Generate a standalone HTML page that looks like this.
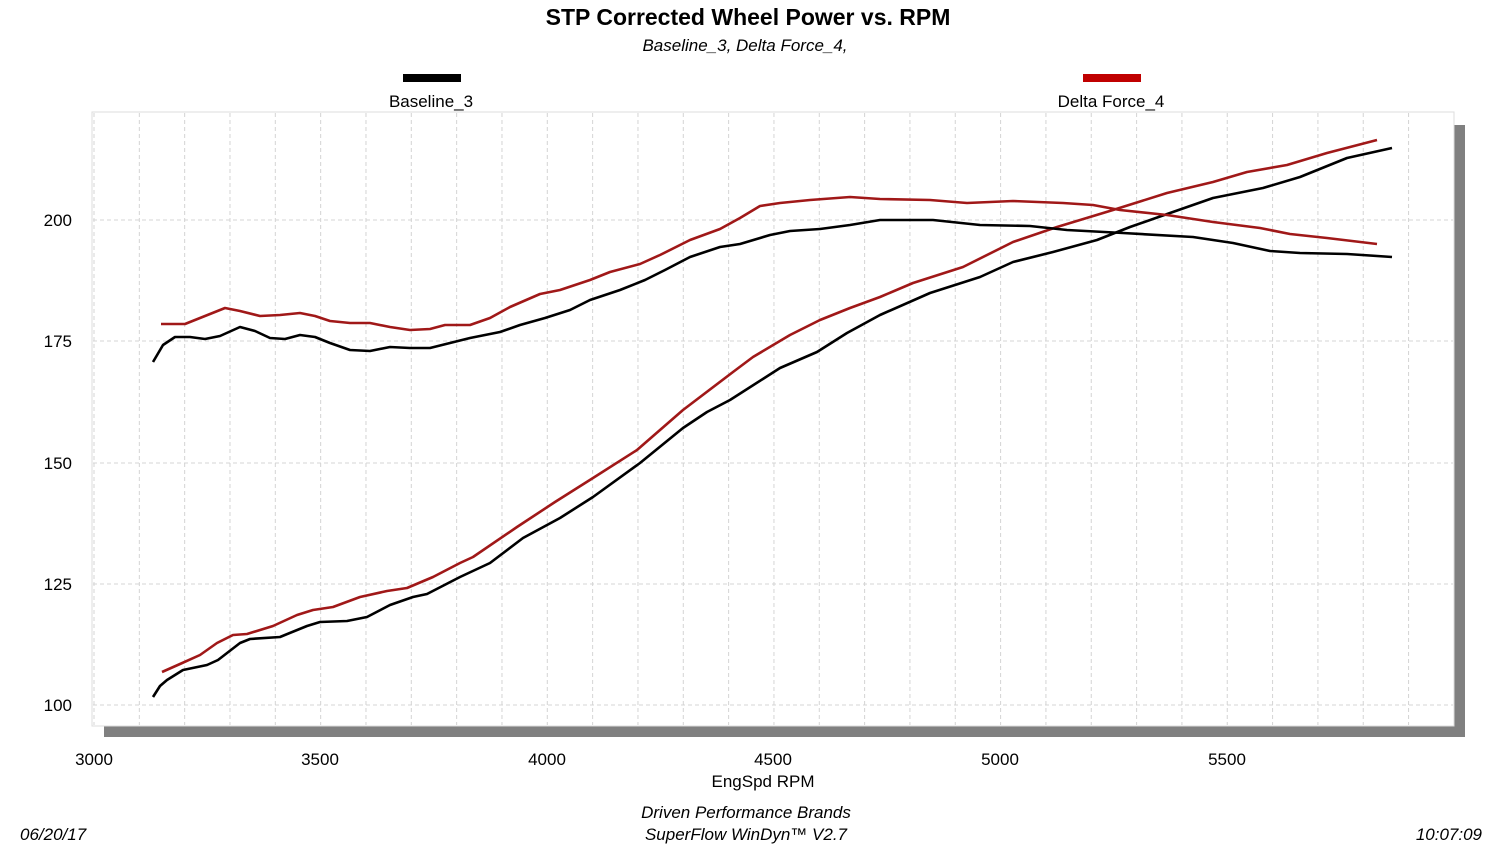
<!DOCTYPE html>
<html><head><meta charset="utf-8"><style>
body{margin:0;background:#fff;}
svg{display:block;font-family:"Liberation Sans",Arial,sans-serif;}
</style></head><body>
<svg width="1500" height="844" viewBox="0 0 1500 844">
<rect x="0" y="0" width="1500" height="844" fill="#fff"/>
<text x="748" y="25" text-anchor="middle" font-size="23" font-weight="bold">STP Corrected Wheel Power vs. RPM</text>
<text x="745" y="51" text-anchor="middle" font-size="17" font-style="italic">Baseline_3, Delta Force_4,</text>
<rect x="403" y="74" width="58" height="8" fill="#000"/>
<rect x="1083" y="74" width="58" height="8" fill="#c00000"/>
<text x="431" y="107" text-anchor="middle" font-size="17">Baseline_3</text>
<text x="1111" y="107" text-anchor="middle" font-size="17">Delta Force_4</text>
<rect x="1454" y="125" width="11" height="612" fill="#808080"/>
<rect x="104" y="726" width="1361" height="11" fill="#808080"/>
<rect x="92" y="112" width="1362" height="614" fill="#fff" stroke="#ddd" stroke-width="1"/>
<g stroke="#d4d4d4" stroke-width="1" stroke-dasharray="4,3" id="grid"></g>
<g font-size="17" fill="#000">
<text x="72" y="226" text-anchor="end">200</text>
<text x="72" y="347" text-anchor="end">175</text>
<text x="72" y="469" text-anchor="end">150</text>
<text x="72" y="590" text-anchor="end">125</text>
<text x="72" y="711" text-anchor="end">100</text>
<text x="94" y="765" text-anchor="middle">3000</text>
<text x="320" y="765" text-anchor="middle">3500</text>
<text x="547" y="765" text-anchor="middle">4000</text>
<text x="773" y="765" text-anchor="middle">4500</text>
<text x="1000" y="765" text-anchor="middle">5000</text>
<text x="1227" y="765" text-anchor="middle">5500</text>
<text x="763" y="787" text-anchor="middle">EngSpd  RPM</text>
</g>
<g font-size="17" font-style="italic">
<text x="746" y="818" text-anchor="middle">Driven Performance Brands</text>
<text x="746" y="840" text-anchor="middle">SuperFlow WinDyn™  V2.7</text>
<text x="20" y="840">06/20/17</text>
<text x="1482" y="840" text-anchor="end">10:07:09</text>
</g>
<g fill="none" stroke-width="2.6" stroke-linejoin="round">
<polyline stroke="#000" points="153,697 160,686 167,680 183,670 207,665 218,660 240,643 250,639 280,637 307,626 320,622 347,621 367,617 390,605 413,597 427,594 460,577 490,563 523,538 560,518 593,497 640,463 683,428 707,412 730,400 780,368 817,352 847,333 880,315 930,293 980,277 1013,262 1053,252 1097,240 1130,227 1170,213 1213,198 1263,188 1300,177 1347,158 1392,148"/>
<polyline stroke="#a01818" points="162,672 180,664 200,655 217,643 233,635 247,634 273,626 297,615 313,610 333,607 360,597 387,591 407,588 433,577 460,563 473,557 517,527 555,502 593,478 637,450 683,410 733,372 753,357 790,335 820,320 850,308 880,297 913,283 963,267 1013,242 1057,227 1113,210 1167,193 1213,182 1247,172 1287,165 1327,153 1377,140"/>
<polyline stroke="#000" points="153,362 163,345 175,337 190,337 205,339 220,336 240,327 255,331 270,338 285,339 300,335 315,337 330,343 350,350 370,351 390,347 410,348 430,348 450,343 470,338 500,332 520,325 545,318 570,310 590,300 620,290 645,280 665,270 690,257 720,247 740,244 770,235 790,231 820,229 850,225 880,220 933,220 980,225 1030,226 1067,230 1123,233 1193,237 1233,243 1270,251 1300,253 1347,254 1392,257"/>
<polyline stroke="#a01818" points="161,324 185,324 200,318 225,308 240,311 260,316 280,315 300,313 315,316 330,321 350,323 370,323 390,327 410,330 430,329 445,325 470,325 490,318 510,307 540,294 560,290 590,280 610,272 640,264 660,255 690,240 720,229 740,218 760,206 780,203 810,200 850,197 880,199 930,200 967,203 1013,201 1063,203 1093,205 1120,210 1167,215 1213,222 1260,228 1290,234 1327,238 1377,244"/>
</g>
<script>
var g=document.getElementById('grid'),ns='http://www.w3.org/2000/svg';
for(var i=0;i<31;i++){var x=94+i*45.33;if(x>1452)break;var l=document.createElementNS(ns,'line');l.setAttribute('x1',x);l.setAttribute('x2',x);l.setAttribute('y1',113);l.setAttribute('y2',725);g.appendChild(l);}
[220,341,463,584,705].forEach(function(y){var l=document.createElementNS(ns,'line');l.setAttribute('x1',93);l.setAttribute('x2',1453);l.setAttribute('y1',y);l.setAttribute('y2',y);g.appendChild(l);});
</script>
</svg>
</body></html>
